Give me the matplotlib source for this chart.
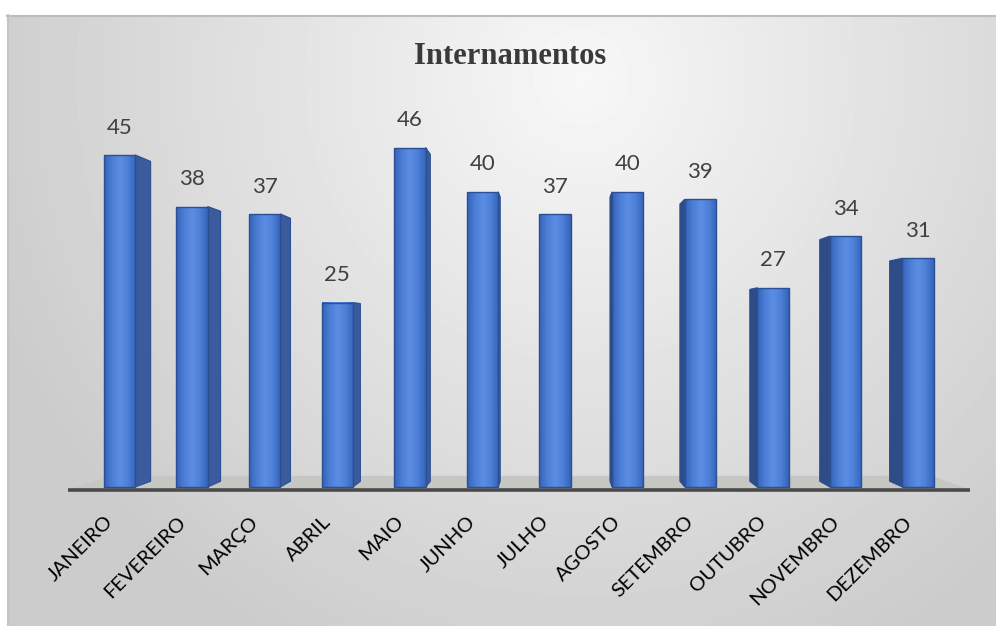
import numpy as np
import matplotlib.pyplot as plt
from matplotlib.patches import Rectangle, Polygon
from matplotlib.colors import LinearSegmentedColormap

# ---- data ----
months = ["JANEIRO", "FEVEREIRO", "MARÇO", "ABRIL", "MAIO", "JUNHO",
          "JULHO", "AGOSTO", "SETEMBRO", "OUTUBRO", "NOVEMBRO", "DEZEMBRO"]
internamentos = [45, 38, 37, 25, 46, 40, 37, 40, 39, 27, 34, 31]
title = "Internamentos"

# ---- layout (pixel based, figure is 996 x 626) ----
W, H = 996, 626
PITCH = 72.6          # px per category
FIRST_X = 119.5       # px centre of first bar
PX_PER_UNIT = 7.38    # px per value unit
ZERO_Y = 487          # px of value 0
AX_L, AX_R, AX_T, AX_B = 68, 970, 100, 490

BAR_W = 0.43
VP = (6.0, 21.0)      # vanishing point (data coords)
DEPTH = 0.037
FLOOR_DEPTH = 0.09

TEXT = "#404040"
FRONT = LinearSegmentedColormap.from_list(
    "front", ["#3563b8", "#4c7ed6", "#5b8de3", "#4e80d8", "#3563b8"])
SIDE_R = "#3b5c9c"
SIDE_L = "#2e4c86"
EDGE = "#2b4f94"

fig = plt.figure(figsize=(W / 100, H / 100), dpi=100)
fig.patch.set_facecolor("white")

# ---- background panel with soft gradient ----
bg = fig.add_axes([7 / W, 0, 1 - 7 / W, 1 - 15 / H], zorder=0)
gx, gy = np.meshgrid(np.linspace(0, 1, 300), np.linspace(0, 1, 200))
dist = np.sqrt((gx - 0.58) ** 2 + (0.6 * (gy - 0.1)) ** 2)
shade = np.clip(0.97 - 0.27 * dist, 0.8, 1)
bg.imshow(shade, cmap="gray", vmin=0, vmax=1, aspect="auto",
          extent=(0, 1, 1, 0), interpolation="bilinear")
bg.set_xlim(0, 1); bg.set_ylim(1, 0)
bg.axis("off")
bg.plot([0, 1], [0.002, 0.002], color="#bdbdbd", lw=1.5, clip_on=False)
bg.plot([0.001, 0.001], [0, 1], color="#c4c4c4", lw=1.5, clip_on=False)

# ---- main axes ----
ax = fig.add_axes([AX_L / W, 1 - AX_B / H, (AX_R - AX_L) / W, (AX_B - AX_T) / H], zorder=1)
x0 = -(FIRST_X - AX_L) / PITCH
x1 = x0 + (AX_R - AX_L) / PITCH
y0 = -(AX_B - ZERO_Y) / PX_PER_UNIT
y1 = (ZERO_Y - AX_T) / PX_PER_UNIT
ax.set_xlim(x0, x1)
ax.set_ylim(y0, y1)
ax.axis("off")


def back(p, k):
    return (p[0] + k * (VP[0] - p[0]), p[1] + k * (VP[1] - p[1]))


# floor
fl, fr = (x0, y0), (x1, y0)
ax.add_patch(Polygon([fl, fr, back(fr, FLOOR_DEPTH), back(fl, FLOOR_DEPTH)],
                     closed=True, facecolor="#c6c6c2", edgecolor="none",
                     zorder=1, clip_on=False))
ax.plot([x0, x1], [y0, y0], color="#4a4a4a", lw=2.6, zorder=2,
        solid_capstyle="butt", clip_on=False)

grad = np.linspace(0, 1, 64).reshape(1, -1)
for i, (m, v) in enumerate(zip(months, internamentos)):
    left, right = i - BAR_W / 2, i + BAR_W / 2
    # side face (perspective toward vanishing point)
    if i < VP[0] - 0.01:
        e = [(right, 0), (right, v)]
        col = SIDE_R
    elif i > VP[0] + 0.01:
        e = [(left, 0), (left, v)]
        col = SIDE_L
    else:
        e = None
    if e is not None:
        ax.add_patch(Polygon([e[0], e[1], back(e[1], DEPTH), back(e[0], DEPTH)],
                             closed=True, facecolor=col, edgecolor=EDGE,
                             lw=0.8, zorder=3))
    # front face with horizontal gradient
    rect = Rectangle((left, 0), BAR_W, v, facecolor="none",
                     edgecolor=EDGE, lw=1.0, zorder=5)
    ax.add_patch(rect)
    im = ax.imshow(grad, cmap=FRONT, aspect="auto",
                   extent=(left, right, 0, v), zorder=4)
    im.set_clip_path(rect)
    # value label
    ax.text(i, v + 3.7, str(v), ha="center", va="center",
            fontsize=16, color=TEXT, family="Lato")
    # category label
    ax.text(i - 0.13, -(519 - ZERO_Y) / PX_PER_UNIT, m, rotation=45,
            rotation_mode="anchor", ha="right", va="center",
            fontsize=14.5, color="black", family="Lato", clip_on=False)

ax.set_xlim(x0, x1)
ax.set_ylim(y0, y1)

fig.text(510 / W, 1 - 56 / H, title, ha="center", va="center",
         fontsize=22, fontweight="bold", color="#3a3a3a", family="Liberation Serif")

plt.savefig("out.png", dpi=100)
